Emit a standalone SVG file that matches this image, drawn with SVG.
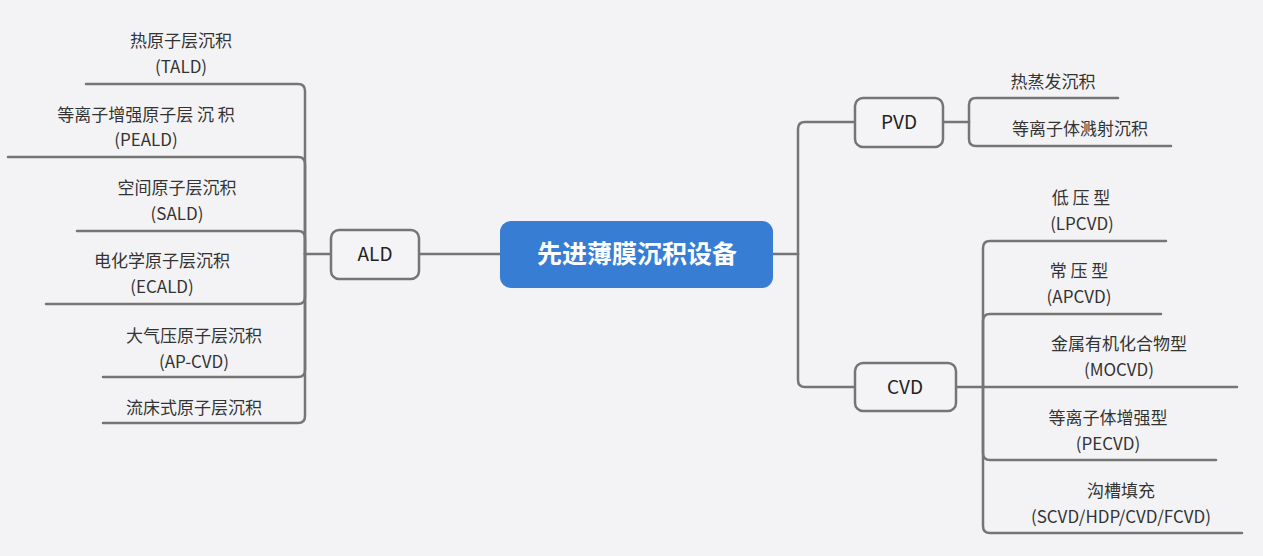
<svg xmlns="http://www.w3.org/2000/svg" width="1263" height="556" viewBox="0 0 1263 556">
<style>
.bg{fill:#f3f3f5}
.ln{fill:none;stroke:#757575;stroke-width:2.5;stroke-linecap:round}
.box{fill:#f4f4f6;stroke:#757575;stroke-width:2.5}
.t{font-family:"Noto Sans CJK SC","Noto Sans",sans-serif;font-size:17px;fill:#333;text-anchor:middle}
.n{font-family:"Noto Sans CJK SC","Noto Sans",sans-serif;font-size:19px;fill:#222;text-anchor:middle}
.c{font-family:"Noto Sans CJK SC","Noto Sans",sans-serif;font-size:25px;font-weight:bold;fill:#fff;text-anchor:middle}
</style>
<rect class="bg" x="0" y="0" width="1263" height="556"/>
<g id="connectors">
<path class="ln" d="M419,254 H500"/>
<path class="ln" d="M331,254 H305"/>
<path class="ln" d="M305,254 V91 Q305,84 298,84 H86"/>
<path class="ln" d="M305,254 V164 Q305,157 298,157 H8"/>
<path class="ln" d="M305,254 V238 Q305,231 298,231 H77"/>
<path class="ln" d="M305,254 V297 Q305,304 298,304 H46"/>
<path class="ln" d="M305,254 V370 Q305,377 298,377 H103"/>
<path class="ln" d="M305,254 V416 Q305,423 298,423 H103"/>
<path class="ln" d="M773,254 H798"/>
<path class="ln" d="M798,254 V129 Q798,122 805,122 H855"/>
<path class="ln" d="M798,254 V380 Q798,387 805,387 H855"/>
<path class="ln" d="M943,122 H969"/>
<path class="ln" d="M969,122 V105 Q969,98 976,98 H1118"/>
<path class="ln" d="M969,122 V139 Q969,146 976,146 H1171"/>
<path class="ln" d="M957,387 H983"/>
<path class="ln" d="M983,387 V248 Q983,241 990,241 H1166"/>
<path class="ln" d="M983,387 V321 Q983,314 990,314 H1161"/>
<path class="ln" d="M983,387 H1237"/>
<path class="ln" d="M983,387 V453 Q983,460 990,460 H1216"/>
<path class="ln" d="M983,387 V526 Q983,533 990,533 H1242"/>
</g>
<g id="center">
<rect x="500" y="221" width="273" height="67" rx="11" fill="#377dd4"/>
<text class="c" x="637" y="263">先进薄膜沉积设备</text>
</g>
<g id="ald">
<rect class="box" x="331" y="230" width="88" height="49" rx="8"/>
<text class="n" x="375" y="261">ALD</text>
</g>
<g id="pvd">
<rect class="box" x="855" y="98" width="88" height="49" rx="8"/>
<text class="n" x="899" y="129">PVD</text>
</g>
<g id="cvd">
<rect class="box" x="855" y="363" width="101" height="48" rx="8"/>
<text class="n" x="905" y="394">CVD</text>
</g>
<g id="tald"><text class="t" x="181" y="47">热原子层沉积</text><text class="t" x="181" y="73">(TALD)</text></g>
<g id="peald"><text class="t" x="146" y="121">等离子增强原子层 沉 积</text><text class="t" x="146" y="146">(PEALD)</text></g>
<g id="sald"><text class="t" x="177" y="194">空间原子层沉积</text><text class="t" x="177" y="220">(SALD)</text></g>
<g id="ecald"><text class="t" x="162" y="267">电化学原子层沉积</text><text class="t" x="162" y="293">(ECALD)</text></g>
<g id="apald"><text class="t" x="194" y="342">大气压原子层沉积</text><text class="t" x="194" y="368">(AP-CVD)</text></g>
<g id="fbald"><text class="t" x="194" y="414">流床式原子层沉积</text></g>
<g id="evap"><text class="t" x="1053" y="88">热蒸发沉积</text></g>
<g id="sputter"><text class="t" x="1080" y="135">等离子体溅射沉积</text></g>
<g id="lpcvd"><text class="t" x="1081" y="204">低 压 型</text><text class="t" x="1082" y="230">(LPCVD)</text></g>
<g id="apcvd"><text class="t" x="1079" y="277">常 压 型</text><text class="t" x="1079" y="303">(APCVD)</text></g>
<g id="mocvd"><text class="t" x="1119" y="350">金属有机化合物型</text><text class="t" x="1119" y="376">(MOCVD)</text></g>
<g id="pecvd"><text class="t" x="1108" y="424">等离子体增强型</text><text class="t" x="1108" y="450">(PECVD)</text></g>
<g id="trench"><text class="t" x="1121" y="497">沟槽填充</text><text class="t" x="1121" y="523">(SCVD/HDP/CVD/FCVD)</text></g>
</svg>
